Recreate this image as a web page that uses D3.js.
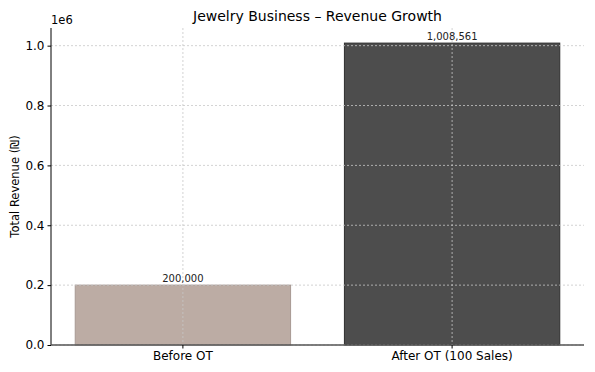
<!DOCTYPE html>
<html>
<head>
<meta charset="UTF-8">
<title>Jewelry Business – Revenue Growth</title>
<style>
  body { margin: 0; background: #fff; }
  text { font-family: "DejaVu Sans", sans-serif; }
</style>
</head>
<body>
<svg id="chart"></svg>
<script src="https://cdn.jsdelivr.net/npm/d3@7"></script>
<script>
// data
var categories = ["Before OT", "After OT (100 Sales)"];
var revenues = [200000, 1008561];
var barColors = ["#bcaca4", "#4d4d4d"];
var barEdges = ["#a89a93", "#2e2e2e"];
var yTicks = [0, 200000, 400000, 600000, 800000, 1000000];

var width = 595, height = 372;
var plotLeft = 51, plotRight = 584, plotTop = 28, plotBottom = 345;

var svg = d3.select("#chart").attr("width", width).attr("height", height);

// scales
var x = d3.scaleBand().domain(categories).range([plotLeft, plotRight])
  .paddingInner(0.2).paddingOuter(0.09);
var y = d3.scaleLinear().domain([0, d3.max(revenues) * 1.05]).range([plotBottom, plotTop]);

var data = categories.map(function (c, i) {
  return { cat: c, value: revenues[i], fill: barColors[i], edge: barEdges[i] };
});

// bars
svg.append("g").selectAll("rect")
  .data(data).enter().append("rect")
  .attr("x", function (d) { return x(d.cat); })
  .attr("y", function (d) { return y(d.value); })
  .attr("width", x.bandwidth())
  .attr("height", function (d) { return plotBottom - y(d.value); })
  .attr("fill", function (d) { return d.fill; })
  .attr("stroke", function (d) { return d.edge; })
  .attr("stroke-width", 1);

// grid on top of bars
var grid = svg.append("g").attr("stroke", "#c8c8c8").attr("stroke-width", 0.8)
  .attr("stroke-dasharray", "2,2");
grid.selectAll(".gy").data(yTicks).enter().append("line")
  .attr("x1", plotLeft).attr("x2", plotRight)
  .attr("y1", function (d) { return y(d); }).attr("y2", function (d) { return y(d); });
grid.selectAll(".gx").data(categories).enter().append("line")
  .attr("x1", function (d) { return x(d) + x.bandwidth() / 2; })
  .attr("x2", function (d) { return x(d) + x.bandwidth() / 2; })
  .attr("y1", plotTop).attr("y2", plotBottom);

// value labels
svg.append("g").selectAll("text")
  .data(data).enter().append("text")
  .attr("x", function (d) { return x(d.cat) + x.bandwidth() / 2; })
  .attr("y", function (d) { return y(d.value) - 3; })
  .attr("text-anchor", "middle")
  .attr("font-size", 10)
  .attr("fill", "#222")
  .text(function (d) { return d3.format(",")(d.value); });

// y axis
var yAxis = d3.axisLeft(y).tickValues(yTicks).tickSize(3.5).tickPadding(3)
  .tickFormat(function (d) { return (d / 1e6).toFixed(1); });
var gy = svg.append("g").attr("transform", "translate(" + plotLeft + ",0)").call(yAxis);
gy.select(".domain").attr("d", "M0," + plotTop + "V" + plotBottom).attr("stroke", "#000").attr("stroke-width", 1);
gy.selectAll("text").attr("font-size", 12).attr("fill", "#000").attr("font-family", "DejaVu Sans, sans-serif");

// x axis
var xAxis = d3.axisBottom(x).tickSize(3.5).tickPadding(3);
var gx = svg.append("g").attr("transform", "translate(0," + plotBottom + ")").call(xAxis);
gx.select(".domain").attr("d", "M" + plotLeft + ",0H" + plotRight).attr("stroke", "#555").attr("stroke-width", 1.3);
gx.selectAll("text").attr("font-size", 12).attr("fill", "#000").attr("font-family", "DejaVu Sans, sans-serif");

// offset label
svg.append("text").attr("x", plotLeft).attr("y", 24).attr("font-size", 11.5).text("1e6");

// title
svg.append("text").attr("x", (plotLeft + plotRight) / 2).attr("y", 21)
  .attr("text-anchor", "middle").attr("font-size", 14).text("Jewelry Business – Revenue Growth");

// y label
svg.append("text")
  .attr("transform", "translate(19," + ((plotTop + plotBottom) / 2) + ") rotate(-90)")
  .attr("text-anchor", "middle").attr("font-size", 11.5).text("Total Revenue (₪)");
</script>
</body>
</html>
